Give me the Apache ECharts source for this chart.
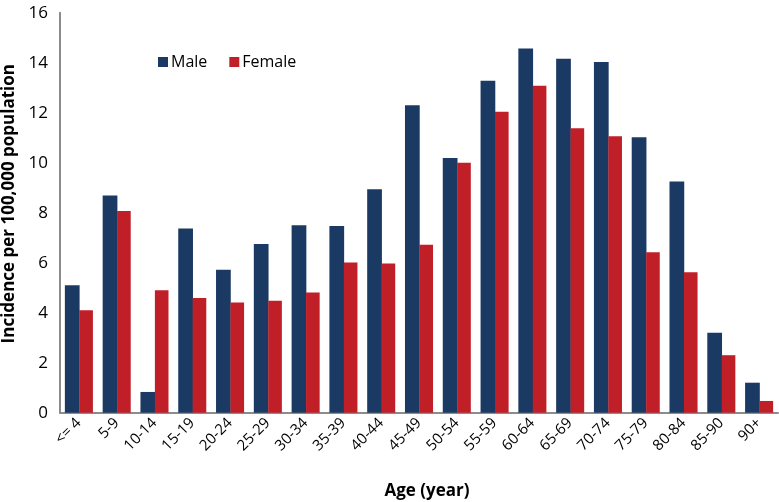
<!DOCTYPE html>
<html>
<head>
<meta charset="utf-8">
<script src="https://cdn.jsdelivr.net/npm/echarts@6/dist/echarts.min.js"></script>
<style>html,body{margin:0;padding:0;background:#fff}#c{width:779px;height:502px}</style>
</head>
<body>
<div id="c"></div>
<script>
const categories = ['<= 4','5-9','10-14','15-19','20-24','25-29','30-34','35-39','40-44','45-49','50-54','55-59','60-64','65-69','70-74','75-79','80-84','85-90','90+'];
const maleValues = [5.1, 8.69, 0.83, 7.37, 5.72, 6.75, 7.5, 7.47, 8.94, 12.3, 10.19, 13.28, 14.57, 14.16, 14.03, 11.02, 9.25, 3.2, 1.2];
const femaleValues = [4.1, 8.07, 4.9, 4.59, 4.41, 4.48, 4.81, 6.01, 5.97, 6.72, 10.0, 12.04, 13.08, 11.38, 11.06, 6.42, 5.62, 2.3, 0.47];
const yTicks = {min: 0, max: 16, interval: 2};
const font = 'Open Sans, Liberation Sans, sans-serif';

const chart = echarts.init(document.getElementById('c'));
chart.setOption({
  animation: false,
  backgroundColor: '#fff',
  grid: {left: 60, right: 1, top: 12.7, bottom: 89.3, containLabel: false, outerBoundsMode: 'none'},
  legend: {
    left: 153, top: 49, itemWidth: 10, itemHeight: 10, itemGap: 22,
    icon: 'rect',
    textStyle: {fontSize: 16, color: '#000', fontFamily: font, padding: [0,0,0,-2]},
    data: ['Male', 'Female']
  },
  xAxis: {
    type: 'category', data: categories,
    name: 'Age (year)', nameLocation: 'middle', nameGap: 70,
    nameTextStyle: {fontSize: 17, fontWeight: 'bold', color: '#000', fontFamily: font, padding: [0,0,0,16]},
    axisLine: {lineStyle: {color: '#8c8c8c', width: 2}},
    axisTick: {show: false},
    axisLabel: {rotate: 45, fontSize: 15, color: '#000', fontFamily: font, margin: 8, interval: 0}
  },
  yAxis: {
    type: 'value', min: yTicks.min, max: yTicks.max, interval: yTicks.interval,
    name: 'Incidence per 100,000 population', nameLocation: 'middle', nameGap: 40,
    nameTextStyle: {fontSize: 17, fontWeight: 'bold', color: '#000', fontFamily: font, padding: [0,0,0,18]},
    axisLine: {show: true, lineStyle: {color: '#8c8c8c', width: 2}},
    axisTick: {show: false},
    splitLine: {show: false},
    axisLabel: {fontSize: 17, color: '#000', fontFamily: font, margin: 12}
  },
  series: [
    {name: 'Male', type: 'bar', data: maleValues, barWidth: '39%', barGap: '-2%',
     itemStyle: {color: '#1b3a63'}},
    {name: 'Female', type: 'bar', data: femaleValues, barWidth: '36%',
     itemStyle: {color: '#c11f28'}}
  ]
});
</script>
</body>
</html>
